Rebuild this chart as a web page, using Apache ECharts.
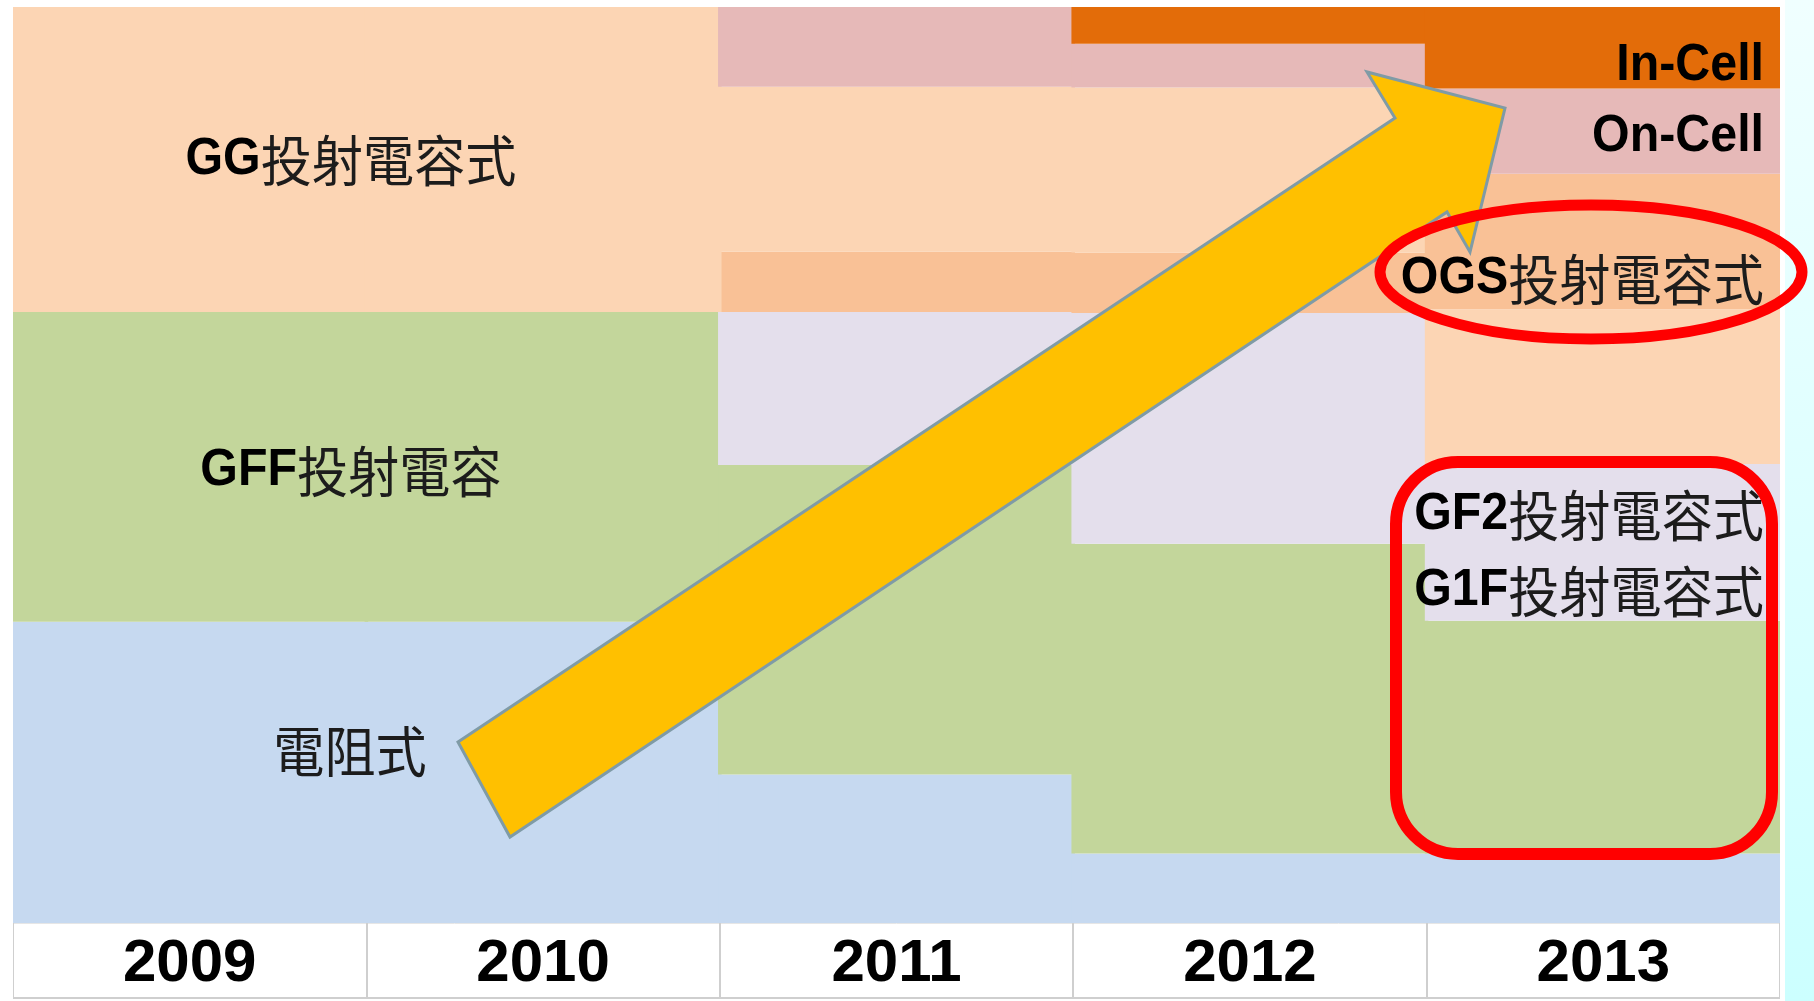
<!DOCTYPE html>
<html>
<head>
<meta charset="utf-8">
<title>觸控面板技術演進 2009-2013</title>
<script src="https://cdn.jsdelivr.net/npm/echarts@6/dist/echarts.min.js"></script>
<style>
  html, body { margin: 0; padding: 0; background: #ffffff; }
  #chart { width: 1814px; height: 1001px; }
</style>
</head>
<body>
<div id="chart"></div>
<script>
// Share of each touch-panel technology per year (percent of column height); '-' = not present
const years = ['2009', '2010', '2011', '2012', '2013'];
const resistive  = [32.9, 32.9, 16.2, 7.6, 7.6];    // 電阻式
const gffG1F     = [33.8, 33.8, 33.8, 33.8, 25.4];  // GFF / G1F 投射電容
const gf2        = ['-', '-', 16.7, 25.2, 17.1];    // GF2 投射電容式
const ogsLower   = ['-', '-', 6.6, 6.6, '-'];       // OGS band under GG (2011-2012)
const ggCap      = [33.3, 33.3, 18.0, 18.0, 16.9];  // GG 投射電容式
const ogsUpper   = ['-', '-', '-', '-', 14.8];      // OGS band above GG (2013)
const onCell     = ['-', '-', 8.7, 4.8, 9.3];       // On-Cell
const inCell     = ['-', '-', '-', 4.0, 8.9];       // In-Cell

const colors = {
  resistive: '#c6d9f0',
  gff: '#c3d69b',
  gf2: '#e4dfec',
  ogs: '#f9c196',
  gg: '#fcd5b4',
  onCell: '#e6b9b8',
  inCell: '#e36c09'
};

const latin = 'Liberation Sans, Arial, sans-serif';
const cjk = '"Noto Sans CJK TC", "Noto Sans CJK SC", sans-serif';

function layer(name, data, color) {
  return {
    name: name,
    type: 'bar',
    stack: 'share',
    data: data,
    // columns overlap by a pixel so neighbouring equal colours join without a seam
    barWidth: '101%',
    itemStyle: { color: color },
    silent: true
  };
}

// Mixed-script label: bold Latin prefix + regular CJK suffix, slightly condensed
function label(prefix, suffix, x, y, align) {
  return {
    type: 'text',
    z: 40,
    x: x, y: y,
    scaleX: 0.93,
    style: {
      x: 0, y: 0,
      text: (prefix ? '{a|' + prefix + '}' : '') + (suffix ? '{b|' + suffix + '}' : ''),
      align: align,
      verticalAlign: 'middle',
      rich: {
        a: { fontFamily: latin, fontWeight: 'bold', fontSize: 52, fill: '#000000' },
        b: { fontFamily: cjk, fontWeight: 'normal', fontSize: 55, fill: '#1c1c1c' }
      }
    }
  };
}

const chart = echarts.init(document.getElementById('chart'), null, { renderer: 'canvas' });

chart.setOption({
  backgroundColor: '#ffffff',
  animation: false,
  grid: { left: 13, right: 34, top: 7, bottom: 78, containLabel: false },
  xAxis: [
    {
      type: 'category',
      data: years,
      position: 'bottom',
      axisLine: { show: true, lineStyle: { color: '#e6e6e6', width: 1 } },
      axisTick: { show: true, length: 75, interval: 0, lineStyle: { color: '#cfcfcf', width: 2 } },
      axisLabel: {
        interval: 0,
        margin: 11,
        fontFamily: latin,
        fontWeight: 'bold',
        fontSize: 60,
        color: '#000000'
      },
      splitLine: { show: false }
    },
    {
      type: 'category',
      data: years,
      position: 'bottom',
      offset: 75,
      axisLine: { show: true, lineStyle: { color: '#cfcfcf', width: 2 } },
      axisTick: { show: false },
      axisLabel: { show: false },
      splitLine: { show: false }
    }
  ],
  yAxis: { type: 'value', min: 0, max: 100, show: false, splitLine: { show: false } },
  series: [
    layer('電阻式', resistive, colors.resistive),
    layer('GFF/G1F投射電容', gffG1F, colors.gff),
    layer('GF2投射電容式', gf2, colors.gf2),
    layer('OGS投射電容式', ogsLower, colors.ogs),
    layer('GG投射電容式', ggCap, colors.gg),
    layer('OGS投射電容式 ', ogsUpper, colors.ogs),
    layer('On-Cell', onCell, colors.onCell),
    layer('In-Cell', inCell, colors.inCell)
  ],
  graphic: [
    // white margins at the plot edges
    {
      type: 'rect', z: 5, silent: true,
      shape: { x: 0, y: 0, width: 13, height: 1001 },
      style: { fill: '#ffffff' }
    },
    {
      type: 'rect', z: 5, silent: true,
      shape: { x: 1780, y: 0, width: 5, height: 1001 },
      style: { fill: '#ffffff' }
    },
    // pale cyan strip on the right margin
    {
      type: 'rect', z: 5, silent: true,
      shape: { x: 1785, y: 0, width: 29, height: 1001 },
      style: {
        fill: new echarts.graphic.LinearGradient(0, 0, 0, 1, [
          { offset: 0, color: '#f0ffff' },
          { offset: 1, color: '#ccffff' }
        ])
      }
    },
    // trend arrow
    {
      type: 'polygon', z: 20, silent: true,
      shape: {
        points: [
          [458, 742], [1395, 118], [1367, 72], [1505, 108],
          [1470, 252], [1447, 212], [510, 837]
        ]
      },
      style: { fill: '#ffc000', stroke: '#7f9ba6', lineWidth: 3, lineJoin: 'miter' }
    },
    // highlight around OGS
    {
      type: 'ellipse', z: 30, silent: true,
      shape: { cx: 1591, cy: 272, rx: 211, ry: 67 },
      style: { fill: 'none', stroke: '#ff0000', lineWidth: 11 }
    },
    // highlight around GF2 / G1F
    {
      type: 'rect', z: 30, silent: true,
      shape: { x: 1396, y: 462, width: 376, height: 392, r: 62 },
      style: { fill: 'none', stroke: '#ff0000', lineWidth: 12 }
    },
    label('GG', '投射電容式', 351, 160, 'center'),
    label('GFF', '投射電容', 351, 471, 'center'),
    label('', '電阻式', 350, 751, 'center'),
    label('In-Cell', '', 1764, 66, 'right'),
    label('On-Cell', '', 1764, 137, 'right'),
    label('OGS', '投射電容式', 1764, 279, 'right'),
    label('GF2', '投射電容式', 1764, 515, 'right'),
    label('G1F', '投射電容式', 1764, 591, 'right')
  ]
});
</script>
</body>
</html>
